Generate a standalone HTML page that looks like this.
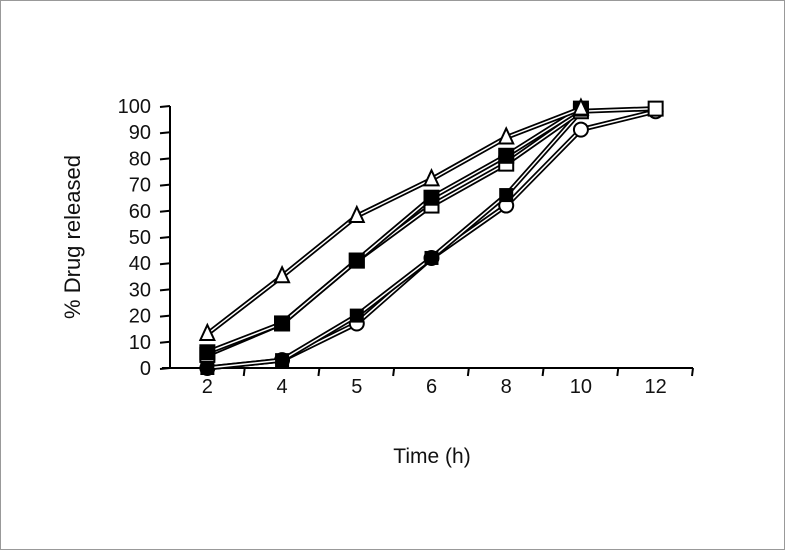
<!DOCTYPE html>
<html><head><meta charset="utf-8"><style>
html,body{margin:0;padding:0;background:#fff}
svg{display:block}
text{font-family:"Liberation Sans",Arial,sans-serif;fill:#111}
</style></head><body>
<svg id="chart" width="785" height="550" viewBox="0 0 785 550" xmlns="http://www.w3.org/2000/svg">
<rect x="0.5" y="0.5" width="784" height="549" fill="#fff" stroke="#999"/>
<g id="axes"></g>
<g id="series"></g>
<text x="432" y="463" font-size="21" text-anchor="middle">Time (h)</text>
<text transform="translate(80,237) rotate(-90)" font-size="22" text-anchor="middle">%  Drug released</text>
</svg>
<script>
const categories = ["2","4","5","6","8","10","12"];
const yTicks = [0,10,20,30,40,50,60,70,80,90,100];
const triangleOpen = [13,35,58,72,88,99,null];
const squareFilledBig = [6,17,41,65,81,99,null];
const squareOpen = [5,17,41,62,78,98,99];
const squareFilledSmall = [0,3,20,42,66,98,null];
const circleOpen = [0,3,17,42,62,91,98];

const NS="http://www.w3.org/2000/svg";
const x0=170,x1=693,yBase=368,yTop=106;
const band=(x1-x0)/categories.length;
const xs=i=>x0+band*(i+0.5);
const ys=v=>yBase-(v/100)*(yBase-yTop);
function mk(tag,attrs,parent){const e=document.createElementNS(NS,tag);for(const k in attrs)e.setAttribute(k,attrs[k]);parent.appendChild(e);return e;}
const axes=document.getElementById('axes');
let e=mk('line',{x1:x0,y1:yBase,x2:x0,y2:yTop,stroke:'#000','stroke-width':2},axes);


e=mk('line',{x1:x0-8,y1:yBase,x2:x1,y2:yBase,stroke:'#000','stroke-width':2},axes);


yTicks.forEach(t=>{
  const y=ys(t);
  let l=mk('line',{x1:x0-10,y1:y+1,x2:x0,y2:y,stroke:'#000','stroke-width':2},axes);
  
  
  let tx=mk('text',{x:151,y:y+7,'font-size':20,'text-anchor':'end'},axes);
  tx.textContent=t;
  
  
});
for(let i=1;i<=categories.length;i++){
  const x=x0+band*i;
  let l=mk('line',{x1:x,y1:yBase,x2:x-1,y2:yBase+8,stroke:'#000','stroke-width':2},axes);
  
  
}
categories.forEach((c,i)=>{
  let tx=mk('text',{x:xs(i),y:393,'font-size':20,'text-anchor':'middle'},axes);
  tx.textContent=c;
  
  
});
const sg=document.getElementById('series');
const defs=[
 {d:circleOpen,m:'circle',fill:'#fff',name:'circle-open'},
 {d:squareFilledSmall,m:'squareSmall',fill:'#000',name:'square-filled-small'},
 {d:squareOpen,m:'square',fill:'#fff',name:'square-open'},
 {d:squareFilledBig,m:'square',fill:'#000',name:'square-filled'},
 {d:triangleOpen,m:'triangle',fill:'#fff',name:'triangle-open'}
];
defs.forEach(s=>{
  const g=mk('g',{},sg);
  
  
  const pts=[];s.d.forEach((v,i)=>{if(v!==null)pts.push([xs(i),ys(v)]);});
  const ptsStr=pts.map(q=>q.join(',')).join(' ');
  const p=mk('polyline',{points:ptsStr,fill:'none',stroke:'#000','stroke-width':5,'stroke-linejoin':'round'},g);
  
  
  const p2=mk('polyline',{points:ptsStr,fill:'none',stroke:'#fff','stroke-width':1.5,'stroke-linejoin':'round'},g);
  
  
  pts.forEach(([x,y])=>{
    let m;
    if(s.m==='circle')m=mk('circle',{cx:x,cy:y,r:7,fill:s.fill,stroke:'#000','stroke-width':2},g);
    else if(s.m==='square')m=mk('rect',{x:x-7,y:y-7,width:14,height:14,fill:s.fill,stroke:'#000','stroke-width':2},g);
    else if(s.m==='squareSmall')m=mk('rect',{x:x-6,y:y-6,width:12,height:12,fill:s.fill,stroke:'#000','stroke-width':2},g);
    else m=mk('polygon',{points:`${x},${y-9} ${x-7},${y+6} ${x+7},${y+6}`,fill:s.fill,stroke:'#000','stroke-width':2},g);
    
    
  });
});
</script>
</body></html>
